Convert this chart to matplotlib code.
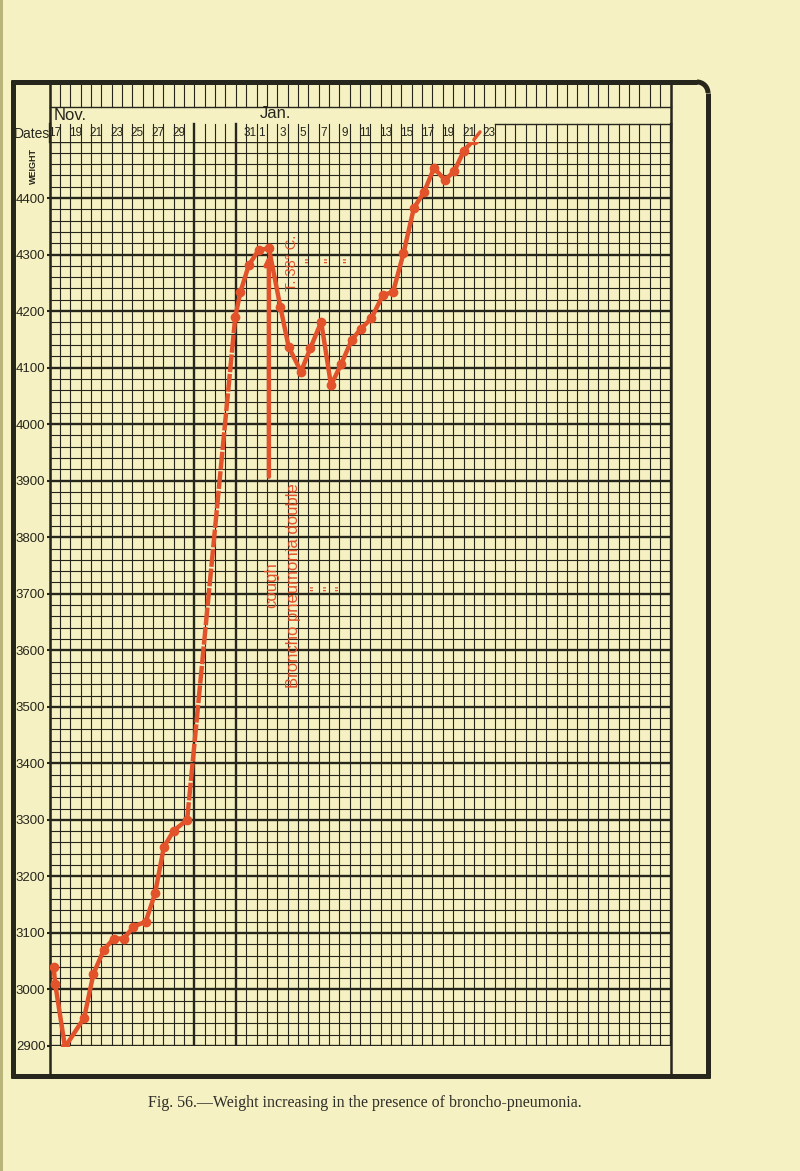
import matplotlib.pyplot as plt
from matplotlib.patches import Arc

# Weight chart of an infant, grams. x = chart column (one column per day, col 0 = Nov 17)
nov_x = [0.4, 0.55, 1.5, 3.35, 4.25, 5.25, 6.2, 7.2, 8.1, 9.3, 10.2, 11.05, 12.0, 13.3]
nov_w = [3040, 3010, 2898, 2950, 3028, 3070, 3090, 3090, 3111, 3120, 3170, 3252, 3281, 3300]

# no weighing between the two parts -> dashed stroke
gap_x = [13.3, 17.95]
gap_w = [3300, 4190]

jan_x = [17.95, 18.45, 19.25, 20.2, 21.2, 22.3, 23.1, 24.3, 25.2, 26.25, 27.2, 28.2, 29.2,
         30.1, 31.1, 32.2, 33.2, 34.2, 35.2, 36.2, 37.15, 38.2, 39.1, 40.05, 41.0, 41.6]
jan_w = [4190, 4234, 4281, 4308, 4311, 4208, 4137, 4093, 4134, 4181, 4069, 4107, 4149,
         4169, 4187, 4228, 4234, 4302, 4382, 4411, 4453, 4432, 4447, 4484, 4503, 4517]

# arrow marking the onset of the illness
arrow_x = 21.2
arrow_w = [3907, 4300]

# date header
nov_days = ['17', '19', '21', '23', '25', '27', '29']
nov_cols = [0.5, 2.5, 4.5, 6.5, 8.5, 10.5, 12.5]
jan_days = ['31', '1', '3', '5', '7', '9', '11', '13', '15', '17', '19', '21', '23']
jan_cols = [19.4, 20.5, 22.5, 24.5, 26.5, 28.5, 30.5, 32.5, 34.5, 36.5, 38.5, 40.5, 42.5]

weights = [2900, 3000, 3100, 3200, 3300, 3400, 3500, 3600, 3700, 3800, 3900, 4000, 4100, 4200, 4300, 4400]

PAPER = '#f5f1c3'
INK = '#26261c'
RED = '#e2522b'
SANS = 'Liberation Sans'

fig = plt.figure(figsize=(8, 11.71), dpi=100, facecolor=PAPER)

# background layer in pixel units: frame, caption, side labels
bg = fig.add_axes([0, 0, 1, 1], zorder=0)
bg.set_xlim(0, 800)
bg.set_ylim(1171, 0)
bg.axis('off')
bg.add_patch(plt.Rectangle((0, 0), 3, 1171, color='#b9b57a', lw=0))
k = dict(color=INK, lw=3.6, solid_capstyle='butt')
bg.plot([13, 13], [80, 1078], **k)
bg.plot([11, 697], [82, 82], **k)
bg.plot([708, 708], [93, 1078], **k)
bg.plot([11, 710], [1076, 1076], **k)
bg.add_patch(Arc((697, 93), 22, 22, theta1=270, theta2=360, color=INK, lw=3.6))
bg.text(32, 134, 'Dates', ha='center', va='center', fontsize=10, color=INK, family=SANS)
bg.text(33, 166, 'WEIGHT', ha='center', va='center', rotation=90, fontsize=6.5,
        fontweight='bold', color=INK, family=SANS)
bg.text(365, 1103, 'Fig. 56.\u2014Weight increasing in the presence of broncho-pneumonia.',
        ha='center', va='center', fontsize=11.5, color='#2e2e28', family='Liberation Serif')

# chart grid
ax = fig.add_axes([49.5 / 800, 125 / 1171, 621 / 800, 904.5 / 1171], zorder=2)
ax.set_facecolor('none')
ax.set_xlim(0, 60)
ax.set_ylim(2900, 4500)
for s in ax.spines.values():
    s.set_visible(False)

W_TOP, W_ROW1, W_ROW2, W_BOT = 4603, 4561, 4531, 2846
for c in range(61):
    heavy = c in (0, 14, 18, 60)
    ax.plot([c, c], [2900, 4500], color=INK, lw=1.7 if heavy else 0.8, zorder=1)
    # header cells above the grid
    ax.plot([c, c], [W_ROW1, W_TOP], color=INK, lw=0.8, clip_on=False)
    ax.plot([c, c], [4500, W_ROW2], color=INK, lw=1.7 if heavy else 0.8, clip_on=False)
for w in range(2900, 4501, 20):
    heavy = w % 100 == 0
    ax.axhline(w, color=INK, lw=1.7 if heavy else 0.8, zorder=1)
ax.plot([0, 0], [W_BOT, W_TOP], color=INK, lw=1.8, clip_on=False)
ax.plot([60, 60], [W_BOT, W_TOP], color=INK, lw=1.8, clip_on=False)
ax.plot([0, 60], [W_ROW1, W_ROW1], color=INK, lw=1.0, clip_on=False)
ax.plot([43, 60], [W_ROW2, W_ROW2], color=INK, lw=1.0, clip_on=False)

ax.text(0.4, 4546, 'Nov.', ha='left', va='center', fontsize=12, color=INK, family=SANS)
ax.text(20.3, 4550, 'Jan.', ha='left', va='center', fontsize=12, color=INK, family=SANS)
for d, c in zip(nov_days + jan_days, nov_cols + jan_cols):
    ax.text(c, 4515, d, ha='center', va='center', fontsize=8.5, color=INK,
            family=SANS, clip_on=False)

ax.set_xticks([])
ax.set_yticks(weights)
ax.set_yticklabels([str(w) for w in weights], family=SANS, fontsize=9.5, color=INK)
ax.tick_params(axis='y', length=2, width=1.5, color=INK, pad=1)

# weight curve
ax.plot(nov_x, nov_w, color=RED, lw=3.2, marker='o', ms=6, zorder=5,
        solid_joinstyle='round', solid_capstyle='round')
ax.plot(gap_x, gap_w, color=RED, lw=3.2, ls=(0, (4, 0.4)), zorder=5)
ax.plot(jan_x[:-1], jan_w[:-1], color=RED, lw=3.2, marker='o', ms=6, zorder=5,
        solid_joinstyle='round')
ax.plot(jan_x[-2:], jan_w[-2:], color=RED, lw=2.4, zorder=5, clip_on=False,
        solid_capstyle='round')
ax.annotate('', xy=(arrow_x, arrow_w[1]), xytext=(arrow_x, arrow_w[0]),
            arrowprops=dict(arrowstyle='-|>', color=RED, lw=3.2, mutation_scale=12,
                            shrinkA=0, shrinkB=0), zorder=5)

# red notes
ax.text(23.4, 4285, 'T. 38\u00b0 C.', rotation=90, ha='center', va='center',
        fontsize=10.5, color=RED, family=SANS, zorder=6)
for c in (25.3, 27.1, 29.0):
    ax.text(c, 4290, '"', rotation=90, ha='center', va='center', fontsize=11,
            color=RED, family=SANS)
ax.text(21.5, 3715, 'cough', rotation=90, ha='center', va='center', fontsize=12,
        color=RED, family=SANS)
ax.text(23.6, 3715, 'Broncho pneumonia double', rotation=90, ha='center', va='center',
        fontsize=12, color=RED, family=SANS)
for c in (25.8, 27.0, 28.2):
    ax.text(c, 3710, '"', rotation=90, ha='center', va='center', fontsize=11,
            color=RED, family=SANS)

fig.savefig('out.png', dpi=100, facecolor=PAPER)
